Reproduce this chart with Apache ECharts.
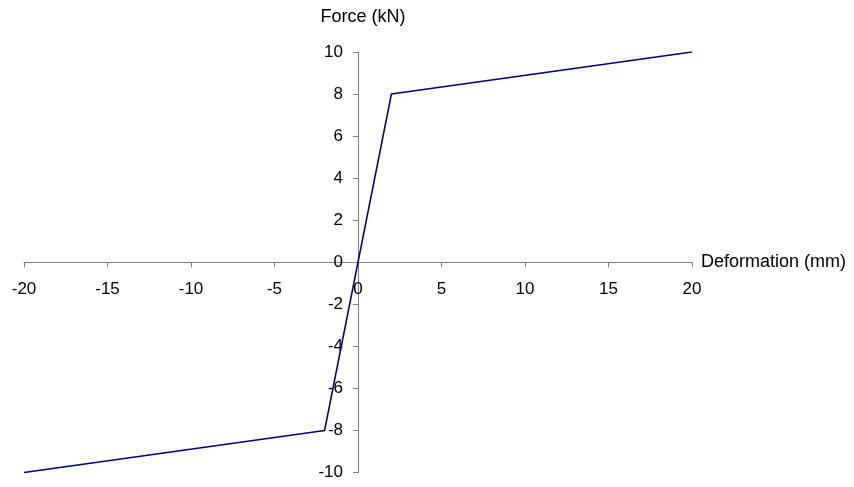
<!DOCTYPE html>
<html><head><meta charset="utf-8">
<script src="https://cdn.jsdelivr.net/npm/echarts@6/dist/echarts.min.js"></script>
<style>html,body{margin:0;padding:0;background:#fff}#c{width:854px;height:487px}</style>
</head><body><div id="c"></div>
<script>
const deformation = [-20, -2, 2, 20];
const force = [-10, -8, 8, 10];
const xName = 'Deformation (mm)';
const yName = 'Force (kN)';

const chart = echarts.init(document.getElementById('c'), null, {renderer: 'canvas'});
const font = 'Liberation Sans, Arial, sans-serif';
const W = 854, H = 487;
const G = {left: 24, right: 162, top: 52, bottom: 14.5};
const gw = W - G.left - G.right, gh = H - G.top - G.bottom;
chart.setOption({
  animation: false,
  grid: {left: G.left, right: G.right, top: G.top, bottom: G.bottom, containLabel: false, outerBoundsMode: 'none'},
  xAxis: {
    type: 'value', min: -20, max: 20, interval: 5, position: 'bottom', offset: -gh / 2,
    name: xName, nameLocation: 'end', nameGap: 9,
    nameTextStyle: {color: '#000', fontFamily: font, fontSize: 18, align: 'left', verticalAlign: 'middle', padding: [2, 0, 0, 0]},
    axisLine: {onZero: false, lineStyle: {color: '#808080', width: 1}},
    axisTick: {show: true, inside: false, length: 5, lineStyle: {color: '#808080'}},
    axisLabel: {color: '#000', fontFamily: font, fontSize: 17, margin: 19, showMinLabel: true, showMaxLabel: true},
    splitLine: {show: false}
  },
  yAxis: {
    type: 'value', min: -10, max: 10, interval: 2, position: 'left', offset: -gw / 2,
    name: yName, nameLocation: 'end', nameGap: 26,
    nameTextStyle: {color: '#000', fontFamily: font, fontSize: 18, align: 'center', padding: [0, 0, 0, 10]},
    axisLine: {onZero: false, lineStyle: {color: '#808080', width: 1}},
    axisTick: {show: true, inside: false, length: 5, lineStyle: {color: '#808080'}},
    axisLabel: {color: '#000', fontFamily: font, fontSize: 17, margin: 15, showMinLabel: true, showMaxLabel: true},
    splitLine: {show: false}
  },
  series: [{
    type: 'line',
    data: deformation.map((d, i) => [d, force[i]]),
    symbol: 'none',
    lineStyle: {color: '#000080', width: 1.6},
    z: 5
  }]
});
</script>
</body></html>
